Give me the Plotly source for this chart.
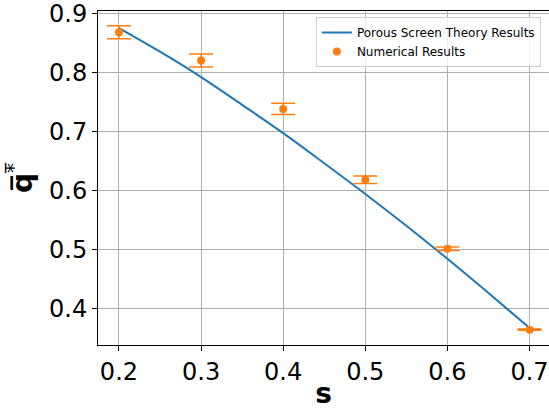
import plotly.graph_objects as go

# Theory curve
s_theory = [0.2, 0.25, 0.3, 0.35, 0.4, 0.45, 0.5, 0.55, 0.6, 0.65, 0.7]
q_theory = [0.875, 0.835, 0.792, 0.745, 0.697, 0.646, 0.594, 0.540, 0.484, 0.426, 0.367]

# Numerical results
s_num = [0.2, 0.3, 0.4, 0.5, 0.6, 0.7]
q_num = [0.868, 0.820, 0.738, 0.618, 0.501, 0.364]
q_err = [0.011, 0.011, 0.0095, 0.0065, 0.003, 0.001]

x_ticks = [0.2, 0.3, 0.4, 0.5, 0.6, 0.7]
y_ticks = [0.4, 0.5, 0.6, 0.7, 0.8, 0.9]

blue = "#1f77b4"
orange = "#ff7f0e"
font = "DejaVu Sans"

fig = go.Figure()
fig.add_trace(go.Scatter(
    x=s_theory, y=q_theory, mode="lines", name="Porous Screen Theory Results",
    line=dict(color=blue, width=2), line_shape="spline"))
fig.add_trace(go.Scatter(
    x=s_num, y=q_num, mode="markers", name="Numerical Results",
    marker=dict(color=orange, size=8),
    error_y=dict(type="data", array=q_err, visible=True, color=orange,
                 thickness=1.5, width=12)))

fig.update_layout(
    width=549, height=410,
    margin=dict(l=98, r=0, t=8, b=65),
    paper_bgcolor="white", plot_bgcolor="white",
    font=dict(family=font, color="black"),
    showlegend=True,
    legend=dict(x=0.982, y=0.982, xanchor="right", yanchor="top",
                bgcolor="rgba(255,255,255,0.8)", bordercolor="#cccccc",
                borderwidth=1, font=dict(size=12, family=font),
                tracegroupgap=0, itemwidth=30),
    xaxis=dict(range=[0.1745, 0.7237], tickvals=x_ticks,
               ticktext=[f"{v:.1f}" for v in x_ticks],
               tickfont=dict(size=24), ticks="outside", ticklen=5,
               tickcolor="black", showline=True, linecolor="black",
               linewidth=1, mirror=True, showgrid=True, gridcolor="#b0b0b0",
               gridwidth=1, zeroline=False, ticklabeloverflow="allow",
               title=dict(text="<b>s</b>", font=dict(size=28), standoff=2)),
    yaxis=dict(range=[0.338, 0.904], tickvals=y_ticks,
               ticktext=[f"{v:.1f}" for v in y_ticks],
               tickfont=dict(size=24), ticks="outside", ticklen=5,
               tickcolor="black", showline=True, linecolor="black",
               linewidth=1, showgrid=True, gridcolor="#b0b0b0",
               gridwidth=1, zeroline=False, ticklabeloverflow="allow",
               title=dict(text="<b>q\u0305</b><sup>*\u0305</sup>", font=dict(size=28), standoff=8)),
)

fig.write_html("out.html")
